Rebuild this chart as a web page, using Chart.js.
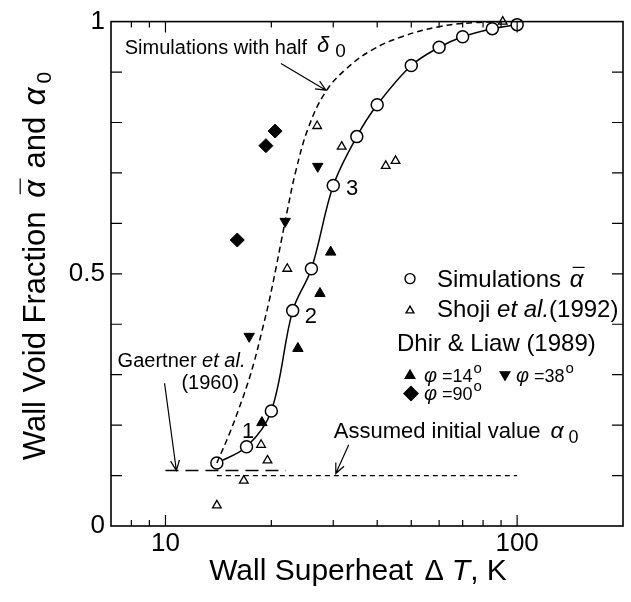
<!DOCTYPE html>
<html>
<head>
<meta charset="utf-8">
<title>Wall void fraction vs wall superheat</title>
<script src="https://cdn.jsdelivr.net/npm/chart.js@4.4.1/dist/chart.umd.min.js"></script>
<style>
  html, body { margin: 0; padding: 0; background: #fff; }
  canvas { display: block; }
</style>
</head>
<body>
<canvas id="voidChart" width="631" height="602"></canvas>
<script>
// values: wall superheat (K) and wall void fraction
const simT = [14, 17, 20, 23, 26, 30, 35, 40, 50, 60, 70, 85, 100];
const simAlpha = [0.125, 0.157, 0.228, 0.427, 0.51, 0.675, 0.772, 0.835, 0.913, 0.949, 0.970, 0.986, 0.994];

const halfT = [14, 15.2, 16.2, 17.1, 17.9, 18.8, 19.7, 20.6, 21.4, 22.2, 23.5, 25.5, 28.5, 32.5, 38.5, 47, 60, 76, 92];
const halfAlpha = [0.125, 0.183, 0.234, 0.281, 0.327, 0.386, 0.445, 0.51, 0.569, 0.625, 0.705, 0.79, 0.86, 0.905, 0.943, 0.97, 0.99, 0.998, 1.0];

const shojiT = [14, 16.7, 18.7, 19.5, 22.2, 27, 31.7, 42.3, 45.1, 91];
const shojiAlpha = [0.041, 0.09, 0.161, 0.13, 0.51, 0.793, 0.752, 0.714, 0.724, 1.0];

const dhir14T = [18.8, 23.8, 27.5, 29.5];
const dhir14Alpha = [0.205, 0.352, 0.461, 0.543];
const dhir38T = [17.3, 21.9, 27.1];
const dhir38Alpha = [0.376, 0.604, 0.713];
const dhir90T = [16, 19.3, 20.5];
const dhir90Alpha = [0.567, 0.754, 0.783];

const gaertnerT = [10, 22];
const gaertnerAlpha = [0.11, 0.11];
const alpha0T = [14, 100];
const alpha0Alpha = [0.1, 0.1];

const xLabelTicks = [10, 100];
const xMinorTicks = [8, 9, 20, 30, 40, 50, 60, 70, 80, 90];
const yLabelTicks = [0, 0.5, 1];
const yMarkTicks = [0.1, 0.2, 0.3, 0.4, 0.5, 0.6, 0.7, 0.8, 0.9];

const FONT = '"Liberation Sans", Arial, Helvetica, sans-serif';

function pts(xs, ys) {
    return xs.map(function(x, i) { return { x: x, y: ys[i] }; });
}

function font(size, italic) {
    return (italic ? 'italic ' : '') + size + 'px ' + FONT;
}

// draws pieces of text one after another: {t, s, i (italic), dy, ov (overline), gap}
function drawRuns(ctx, x, y, runs) {
    let cx = x;
    runs.forEach(function(r) {
        cx += r.gap || 0;
        ctx.font = font(r.s, r.i);
        const w = ctx.measureText(r.t).width;
        ctx.fillText(r.t, cx, y + (r.dy || 0));
        if (r.ov) {
            const oy = y + (r.dy || 0) - r.s * 0.8;
            ctx.beginPath();
            ctx.moveTo(cx + r.s * 0.12, oy);
            ctx.lineTo(cx + w + r.s * 0.05, oy);
            ctx.lineWidth = 1.2;
            ctx.stroke();
        }
        cx += w;
    });
    return cx - x;
}

function runsWidth(ctx, runs) {
    let w = 0;
    runs.forEach(function(r) {
        ctx.font = font(r.s, r.i);
        w += (r.gap || 0) + ctx.measureText(r.t).width;
    });
    return w;
}

function arrow(ctx, x1, y1, x2, y2) {
    const a = Math.atan2(y2 - y1, x2 - x1);
    const len = 11, spread = 0.42;
    ctx.beginPath();
    ctx.moveTo(x1, y1);
    ctx.lineTo(x2, y2);
    ctx.moveTo(x2 - len * Math.cos(a - spread), y2 - len * Math.sin(a - spread));
    ctx.lineTo(x2, y2);
    ctx.lineTo(x2 - len * Math.cos(a + spread), y2 - len * Math.sin(a + spread));
    ctx.lineWidth = 1.2;
    ctx.stroke();
}

function marker(ctx, style, x, y, r, filled) {
    ctx.beginPath();
    if (style === 'circle') {
        ctx.arc(x, y, r, 0, Math.PI * 2);
    } else if (style === 'up' || style === 'down') {
        const s = style === 'up' ? 1 : -1;
        ctx.moveTo(x, y - s * r);
        ctx.lineTo(x + r * 0.866, y + s * r * 0.5);
        ctx.lineTo(x - r * 0.866, y + s * r * 0.5);
        ctx.closePath();
    } else {
        ctx.moveTo(x, y - r);
        ctx.lineTo(x + r, y);
        ctx.lineTo(x, y + r);
        ctx.lineTo(x - r, y);
        ctx.closePath();
    }
    ctx.fillStyle = filled ? '#000' : '#fff';
    ctx.fill();
    ctx.lineWidth = 1.4;
    ctx.stroke();
    ctx.fillStyle = '#000';
}

const decorations = {
    id: 'decorations',
    afterDraw: function(chart) {
        const ctx = chart.ctx;
        const ca = chart.chartArea;
        const xs = chart.scales.x, ys = chart.scales.y;
        const px = function(v) { return xs.getPixelForValue(v); };
        const py = function(v) { return ys.getPixelForValue(v); };

        ctx.save();
        ctx.strokeStyle = '#000';
        ctx.fillStyle = '#000';
        ctx.setLineDash([]);

        // frame
        ctx.lineWidth = 1.6;
        ctx.strokeRect(ca.left, ca.top, ca.right - ca.left, ca.bottom - ca.top);

        // inward tick marks on all four sides
        ctx.lineWidth = 1.2;
        ctx.beginPath();
        xLabelTicks.concat(xMinorTicks).forEach(function(v) {
            const len = xLabelTicks.indexOf(v) >= 0 ? 11 : 6;
            const x = px(v);
            ctx.moveTo(x, ca.bottom); ctx.lineTo(x, ca.bottom - len);
            ctx.moveTo(x, ca.top); ctx.lineTo(x, ca.top + len);
        });
        yMarkTicks.forEach(function(v) {
            const y = py(v);
            ctx.moveTo(ca.left, y); ctx.lineTo(ca.left + 11, y);
            ctx.moveTo(ca.right, y); ctx.lineTo(ca.right - 11, y);
        });
        ctx.stroke();

        ctx.textBaseline = 'alphabetic';
        ctx.textAlign = 'left';

        // x axis title
        const xRuns = [
            { t: 'Wall Superheat ', s: 30 },
            { t: '\u0394', s: 29, gap: 3 },
            { t: 'T', s: 30, i: true, gap: 8 },
            { t: ', K', s: 30 }
        ];
        drawRuns(ctx, 358 - runsWidth(ctx, xRuns) / 2, 580, xRuns);

        // y axis title
        const yRuns = [
            { t: 'Wall Void Fraction ', s: 31 },
            { t: '\u03b1', s: 31, i: true, ov: true, gap: 5 },
            { t: ' and ', s: 31, gap: 3 },
            { t: '\u03b1', s: 31, i: true, gap: 3 },
            { t: '0', s: 21, dy: 6, gap: 4 }
        ];
        ctx.save();
        ctx.translate(45, 266);
        ctx.rotate(-Math.PI / 2);
        drawRuns(ctx, -runsWidth(ctx, yRuns) / 2, 0, yRuns);
        ctx.restore();

        // annotations, anchored in data units
        drawRuns(ctx, px(7.66), py(0.935), [
            { t: 'Simulations with half', s: 20 },
            { t: '\u03b4', s: 22, i: true, gap: 10, dy: -2 },
            { t: '0', s: 19, gap: 6, dy: 3 }
        ]);
        arrow(ctx, px(21.3), py(0.917), px(28.6), py(0.864));

        drawRuns(ctx, px(7.31), py(0.315), [
            { t: 'Gaertner ', s: 20 },
            { t: 'et al.', s: 20, i: true }
        ]);
        drawRuns(ctx, px(11.1), py(0.272), [{ t: '(1960)', s: 20 }]);
        arrow(ctx, px(9.94), py(0.283), px(10.74), py(0.11));

        drawRuns(ctx, px(30.1), py(0.175), [
            { t: 'Assumed initial value', s: 22 },
            { t: '\u03b1', s: 23, i: true, gap: 10 },
            { t: '0', s: 18, gap: 5, dy: 5 }
        ]);
        arrow(ctx, px(33.2), py(0.161), px(30.5), py(0.104));

        drawRuns(ctx, px(16.5), py(0.175), [{ t: '1', s: 22 }]);
        drawRuns(ctx, px(24.9), py(0.402), [{ t: '2', s: 22 }]);
        drawRuns(ctx, px(32.6), py(0.656), [{ t: '3', s: 22 }]);

        // legend
        const lx = ca.left + 299, ly = ca.top + 257;
        marker(ctx, 'circle', lx, ly, 5, false);
        drawRuns(ctx, lx + 27, ly + 8, [
            { t: 'Simulations ', s: 24 },
            { t: '\u03b1', s: 24, i: true, ov: true, gap: 2 }
        ]);
        marker(ctx, 'up', lx, ly + 32, 4.5, false);
        drawRuns(ctx, lx + 27, ly + 38, [
            { t: 'Shoji ', s: 24 },
            { t: 'et al.', s: 24, i: true },
            { t: '(1992)', s: 24 }
        ]);
        drawRuns(ctx, lx - 13, ly + 72, [{ t: 'Dhir & Liaw (1989)', s: 24 }]);

        marker(ctx, 'up', lx, ly + 97, 5.5, true);
        drawRuns(ctx, lx + 14, ly + 103, [
            { t: '\u03c6', s: 20, i: true },
            { t: ' =14', s: 18 },
            { t: 'o', s: 15, dy: -9, gap: 1 }
        ]);
        marker(ctx, 'down', lx + 95, ly + 96, 5.5, true);
        drawRuns(ctx, lx + 106, ly + 103, [
            { t: '\u03c6', s: 20, i: true },
            { t: ' =38', s: 18 },
            { t: 'o', s: 15, dy: -9, gap: 1 }
        ]);
        marker(ctx, 'diamond', lx + 1, ly + 115, 7, true);
        drawRuns(ctx, lx + 14, ly + 121, [
            { t: '\u03c6', s: 20, i: true },
            { t: ' =90', s: 18 },
            { t: 'o', s: 15, dy: -9, gap: 1 }
        ]);

        ctx.restore();
    }
};

document.addEventListener('DOMContentLoaded', function() {
    const ctx = document.getElementById('voidChart').getContext('2d');

    new Chart(ctx, {
        type: 'scatter',
        data: {
            datasets: [
                {
                    label: 'Simulations with half delta0',
                    data: pts(halfT, halfAlpha),
                    showLine: true,
                    borderColor: '#000',
                    borderWidth: 1.5,
                    borderDash: [6, 4],
                    pointRadius: 0,
                    tension: 0.4,
                    clip: false
                },
                {
                    label: 'Gaertner et al. (1960)',
                    data: pts(gaertnerT, gaertnerAlpha),
                    showLine: true,
                    borderColor: '#000',
                    borderWidth: 1.3,
                    borderDash: [13, 7],
                    pointRadius: 0
                },
                {
                    label: 'Assumed initial value alpha0',
                    data: pts(alpha0T, alpha0Alpha),
                    showLine: true,
                    borderColor: '#000',
                    borderWidth: 1.3,
                    borderDash: [5, 4],
                    pointRadius: 0
                },
                {
                    label: 'Simulations',
                    data: pts(simT, simAlpha),
                    showLine: true,
                    borderColor: '#000',
                    borderWidth: 1.5,
                    tension: 0.35,
                    pointStyle: 'circle',
                    pointRadius: 6,
                    pointBackgroundColor: '#fff',
                    pointBorderColor: '#000',
                    pointBorderWidth: 1.5,
                    clip: false
                },
                {
                    label: 'Shoji et al. (1992)',
                    data: pts(shojiT, shojiAlpha),
                    pointStyle: 'triangle',
                    pointRadius: 5,
                    pointBackgroundColor: '#fff',
                    pointBorderColor: '#000',
                    pointBorderWidth: 1.3,
                    clip: false
                },
                {
                    label: 'Dhir & Liaw phi=14',
                    data: pts(dhir14T, dhir14Alpha),
                    pointStyle: 'triangle',
                    pointRadius: 6,
                    pointBackgroundColor: '#000',
                    pointBorderColor: '#000',
                    pointBorderWidth: 1
                },
                {
                    label: 'Dhir & Liaw phi=38',
                    data: pts(dhir38T, dhir38Alpha),
                    pointStyle: 'triangle',
                    pointRotation: 180,
                    pointRadius: 6,
                    pointBackgroundColor: '#000',
                    pointBorderColor: '#000',
                    pointBorderWidth: 1
                },
                {
                    label: 'Dhir & Liaw phi=90',
                    data: pts(dhir90T, dhir90Alpha),
                    pointStyle: 'rectRot',
                    pointRadius: 7,
                    pointBackgroundColor: '#000',
                    pointBorderColor: '#000',
                    pointBorderWidth: 1
                }
            ]
        },
        options: {
            responsive: false,
            animation: false,
            layout: { padding: { left: 0, right: 7, top: 18, bottom: 0 } },
            plugins: {
                legend: { display: false },
                tooltip: { enabled: false }
            },
            scales: {
                x: {
                    type: 'logarithmic',
                    min: 7,
                    max: 200,
                    afterBuildTicks: function(scale) {
                        scale.ticks = xLabelTicks.map(function(v) { return { value: v }; });
                    },
                    afterFit: function(scale) { scale.height = 76; },
                    ticks: {
                        autoSkip: false,
                        maxRotation: 0,
                        padding: 2,
                        color: '#000',
                        font: { family: FONT, size: 26 },
                        callback: function(v) { return String(v); }
                    },
                    grid: { display: false, drawTicks: false },
                    border: { display: false }
                },
                y: {
                    type: 'linear',
                    min: 0,
                    max: 1,
                    afterBuildTicks: function(scale) {
                        scale.ticks = yLabelTicks.map(function(v) { return { value: v }; });
                    },
                    afterFit: function(scale) { scale.width = 111; },
                    ticks: {
                        padding: 6,
                        color: '#000',
                        font: { family: FONT, size: 26 },
                        callback: function(v) { return String(v); }
                    },
                    grid: { display: false, drawTicks: false },
                    border: { display: false }
                }
            }
        },
        plugins: [decorations]
    });
});
</script>
</body>
</html>
